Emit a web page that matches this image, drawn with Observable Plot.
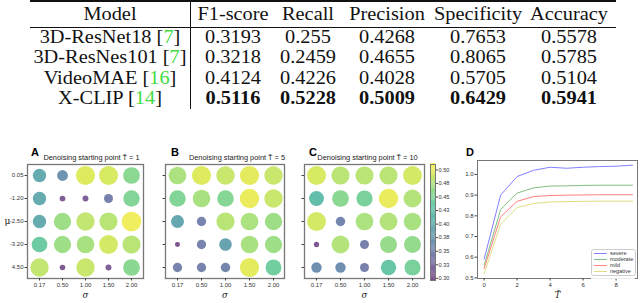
<!DOCTYPE html>
<html>
<head>
<meta charset="utf-8">
<script src="https://cdn.jsdelivr.net/npm/d3@7"></script>
<script src="https://cdn.jsdelivr.net/npm/@observablehq/plot@0.6"></script>
<style>
  html, body { margin: 0; padding: 0; background: #fff; }
  #fig { position: relative; width: 640px; height: 303px; overflow: hidden; background: #fff; }
  .abs { position: absolute; }
  .cell { position: absolute; white-space: nowrap; font-family: "Liberation Serif", "DejaVu Serif", serif; font-size: 18.5px; color: #111; transform: translate(-50%, -50%) scaleX(1.1); line-height: 1; }
  .bold { font-weight: bold; }
  .rule { position: absolute; background: #111; }
  .letter { position: absolute; font-family: "Liberation Sans", Arial, sans-serif; font-weight: bold; font-size: 11px; color: #000; line-height: 1; }
</style>
</head>
<body>
<div id="fig"></div>
<script>
// ---------------- Table data ----------------
const models = ["3D-ResNet18", "3D-ResNes101", "VideoMAE", "X-CLIP"];
const modelRefs = ["7", "7", "16", "14"];
const metrics = ["F1-score", "Recall", "Precision", "Specificity", "Accuracy"];
const f1Score = [0.3193, 0.3218, 0.4124, 0.5116];
const recall = [0.255, 0.2459, 0.4226, 0.5228];
const precision = [0.4268, 0.4655, 0.4028, 0.5009];
const specificity = [0.7653, 0.8065, 0.5705, 0.6429];
const accuracy = [0.5578, 0.5785, 0.5104, 0.5941];
const boldRow = "X-CLIP";

// ---------------- Panels A–C data ----------------
const sigmaLabels = ["0.17", "0.50", "1.00", "1.50", "2.00"];
const muLabels = ["0.05", "-1.20", "-2.50", "-3.20", "4.50"];
const startPoints = ["1", "5", "10"];
// rows = mu (top to bottom), cols = sigma
const scoresA = [
  [0.395, 0.365, 0.495, 0.492, 0.455],
  [0.395, 0.310, 0.312, 0.345, 0.450],
  [0.395, 0.465, 0.482, 0.478, 0.503],
  [0.435, 0.465, 0.470, 0.490, 0.478],
  [0.482, 0.308, 0.485, 0.312, 0.455]
];
const scoresB = [
  [0.472, 0.495, 0.485, 0.497, 0.485],
  [0.450, 0.470, 0.452, 0.500, 0.485],
  [0.390, 0.348, 0.478, 0.472, 0.465],
  [0.302, 0.348, 0.385, 0.470, 0.465],
  [0.348, 0.348, 0.350, 0.497, 0.440]
];
const scoresC = [
  [0.492, 0.478, 0.478, 0.478, 0.490],
  [0.420, 0.455, 0.445, 0.500, 0.475],
  [0.490, 0.350, 0.472, 0.475, 0.470],
  [0.305, 0.475, 0.345, 0.462, 0.460],
  [0.360, 0.360, 0.345, 0.430, 0.445]
];
const colorTicks = [0.30, 0.325, 0.35, 0.375, 0.40, 0.425, 0.45, 0.475, 0.50];
const colorTickLabels = ["0.30", "0.33", "0.35", "0.38", "0.40", "0.43", "0.45", "0.48", "0.50"];

// ---------------- Panel D data ----------------
const tSteps = [0, 1, 2, 3, 4, 5, 6, 7, 8, 9];
const severe   = [0.59, 0.90, 0.99, 1.02, 1.035, 1.03, 1.035, 1.038, 1.04, 1.045];
const moderate = [0.56, 0.83, 0.91, 0.935, 0.944, 0.945, 0.947, 0.948, 0.948, 0.948];
const mild     = [0.545, 0.795, 0.87, 0.893, 0.898, 0.90, 0.901, 0.902, 0.902, 0.902];
const negative = [0.52, 0.76, 0.84, 0.86, 0.867, 0.869, 0.87, 0.871, 0.871, 0.871];
const seriesNames = ["severe", "moderate", "mild", "negative"];
const seriesColors = ["#8080ff", "#80c080", "#ff8080", "#dfdf80"];
const tTicks = [0, 2, 4, 6, 8];
const scoreTicks = [0.5, 0.6, 0.7, 0.8, 0.9, 1.0];

const fig = document.getElementById("fig");

// ---------------- Table ----------------
const colX = [110, 233, 308, 387, 478, 569];
const rowY = [14, 37, 57, 78, 98];
function cell(html, x, y, cls) {
  const d = document.createElement("div");
  d.className = "cell" + (cls ? " " + cls : "");
  d.style.left = x + "px";
  d.style.top = y + "px";
  d.innerHTML = html;
  fig.appendChild(d);
}
function rule(x, y, w, h) {
  const d = document.createElement("div");
  d.className = "rule";
  Object.assign(d.style, {left: x + "px", top: y + "px", width: w + "px", height: h + "px"});
  fig.appendChild(d);
}
rule(30, 0, 586, 2);
rule(30, 27, 586, 1.2);
rule(190, 0, 1.2, 109);
cell("Model", colX[0], rowY[0]);
metrics.forEach((m, j) => cell(m, colX[j + 1], rowY[0]));
const columns = [f1Score, recall, precision, specificity, accuracy];
models.forEach((m, i) => {
  cell(`${m} [<span style="color:#3fdc3f">${modelRefs[i]}</span>]`, colX[0], rowY[i + 1]);
  columns.forEach((col, j) => cell(String(col[i]), colX[j + 1], rowY[i + 1], m === boldRow ? "bold" : ""));
});

// ---------------- Panels ----------------
const colorScale = {type: "linear", scheme: "viridis", domain: [0.296, 0.51]};
const rScale = {type: "linear", domain: [0.30, 0.36, 0.40, 0.46, 0.51], range: [2.4, 5.2, 6.9, 8.5, 10], clamp: true};
const tickFont = {fontFamily: "Liberation Sans, Arial, sans-serif", fontSize: "6px", color: "#333"};

function place(node, left, top) {
  node.classList.add("abs");
  node.style.left = left + "px";
  node.style.top = top + "px";
  fig.appendChild(node);
}

function panel(scores, {width, marginLeft, marginRight, showY, title, titleDx}) {
  const data = [];
  scores.forEach((row, i) => row.forEach((v, j) => data.push({mu: muLabels[i], sigma: sigmaLabels[j], v})));
  return Plot.plot({
    width, height: 158,
    marginLeft, marginRight, marginTop: 19, marginBottom: 25,
    style: {...tickFont, background: "transparent", overflow: "visible"},
    x: {type: "point", domain: sigmaLabels, padding: 0.43, label: null},
    y: {type: "point", domain: muLabels, padding: 0.47, label: null},
    color: colorScale,
    r: rScale,
    marks: [
      Plot.dot(data, {x: "sigma", y: "mu", r: "v", fill: "v", fillOpacity: 0.7}),
      Plot.frame({stroke: "#777", strokeWidth: 1.3}),
      Plot.axisX({tickSize: 2.5, tickPadding: 2, fontSize: 6, stroke: "#444"}),
      Plot.axisY({tickSize: 2.5, tickPadding: 1.5, fontSize: 6, stroke: "#444", tickFormat: showY ? (d) => d : () => ""}),
      Plot.text([title], {frameAnchor: "top", dy: -7, dx: titleDx, lineAnchor: "middle", fontSize: 7.4, fill: "#222"}),
      Plot.text(["σ"], {frameAnchor: "bottom", dy: 17, lineAnchor: "middle", fontSize: 8.5, fontStyle: "italic", fontFamily: "DejaVu Serif, serif", fill: "#222"}),
      ...(showY ? [Plot.text(["μ"], {frameAnchor: "left", dx: -23, lineAnchor: "middle", fontSize: 9, fontFamily: "DejaVu Serif, serif", fill: "#222"})] : [])
    ]
  });
}

place(panel(scoresA, {width: 160, marginLeft: 27, marginRight: 17, showY: true, title: `Denoising starting point T\u0303 = ${startPoints[0]}`, titleDx: 6}), 0, 145);
place(panel(scoresB, {width: 140, marginLeft: 5, marginRight: 16, showY: false, title: `Denoising starting point T\u0303 = ${startPoints[1]}`, titleDx: 12}), 160, 145);
place(panel(scoresC, {width: 125, marginLeft: 4, marginRight: 1, showY: false, title: `Denoising starting point T\u0303 = ${startPoints[2]}`, titleDx: 3}), 300, 145);

// ---------------- Colorbar ----------------
const barSteps = d3.range(0.296, 0.5101, 0.002);
place(Plot.plot({
  width: 35, height: 158, marginLeft: 5, marginRight: 25, marginTop: 19, marginBottom: 23,
  style: {...tickFont, background: "transparent", overflow: "visible"},
  x: {domain: [0, 1], axis: null},
  y: {domain: [0.296, 0.51], label: null},
  color: colorScale,
  marks: [
    Plot.rectY(barSteps, {x1: 0, x2: 1, y1: (d) => d, y2: (d) => d + 0.0021, fill: (d) => d, fillOpacity: 0.7}),
    Plot.frame({stroke: "#777", strokeWidth: 1}),
    Plot.axisY({anchor: "right", ticks: colorTicks, tickSize: 2, tickPadding: 1, fontSize: 5.6, stroke: "#444", tickFormat: (d, i) => colorTickLabels[i]})
  ]
}), 425, 145);

// ---------------- Panel D ----------------
const lineData = [];
[severe, moderate, mild, negative].forEach((vals, k) => vals.forEach((v, i) => lineData.push({t: tSteps[i], v, s: seriesNames[k]})));
const seriesColor = {domain: seriesNames, range: seriesColors};
place(Plot.plot({
  width: 180, height: 158, marginLeft: 17, marginRight: 3, marginTop: 15, marginBottom: 25,
  style: {...tickFont, background: "transparent", overflow: "visible"},
  x: {domain: [-0.4, 9.3], label: null},
  y: {domain: [0.497, 1.0675], label: null},
  color: seriesColor,
  marks: [
    Plot.line(lineData, {x: "t", y: "v", z: "s", stroke: "s", strokeWidth: 1}),
    Plot.frame({stroke: "#777", strokeWidth: 1}),
    Plot.axisX({ticks: tTicks, tickSize: 2.5, tickPadding: 2, fontSize: 6, stroke: "#444"}),
    Plot.axisY({ticks: scoreTicks, tickFormat: ".1f", tickSize: 2.5, tickPadding: 1.5, fontSize: 6, stroke: "#444"}),
    Plot.text(["T\u0303"], {frameAnchor: "bottom", dy: 17, lineAnchor: "middle", fontSize: 8.5, fontStyle: "italic", fontFamily: "DejaVu Serif, serif", fill: "#222"})
  ]
}), 460, 145);

// legend for D
place(Plot.plot({
  width: 44, height: 34, margin: 0, marginTop: 4, marginBottom: 4,
  style: {fontFamily: "Liberation Sans, Arial, sans-serif", fontSize: "5.5px", background: "rgba(255,255,255,0.85)", overflow: "visible"},
  x: {domain: [0, 1], axis: null},
  y: {type: "point", domain: seriesNames, axis: null},
  color: seriesColor,
  marks: [
    Plot.frame({stroke: "#ccc", rx: 2}),
    Plot.ruleY(seriesNames, {y: (d) => d, x1: 0.07, x2: 0.36, stroke: (d) => d, strokeWidth: 1}),
    Plot.text(seriesNames, {y: (d) => d, x: 0.42, text: (d) => d, textAnchor: "start", fill: "#333", fontSize: 5.5})
  ]
}), 591, 245);

// panel letters
[["A", 31, 147], ["B", 171, 147], ["C", 309, 147], ["D", 466, 147]].forEach(([t, x, y]) => {
  const d = document.createElement("div");
  d.className = "letter";
  d.textContent = t;
  d.style.left = x + "px";
  d.style.top = y + "px";
  fig.appendChild(d);
});
</script>
</body>
</html>
